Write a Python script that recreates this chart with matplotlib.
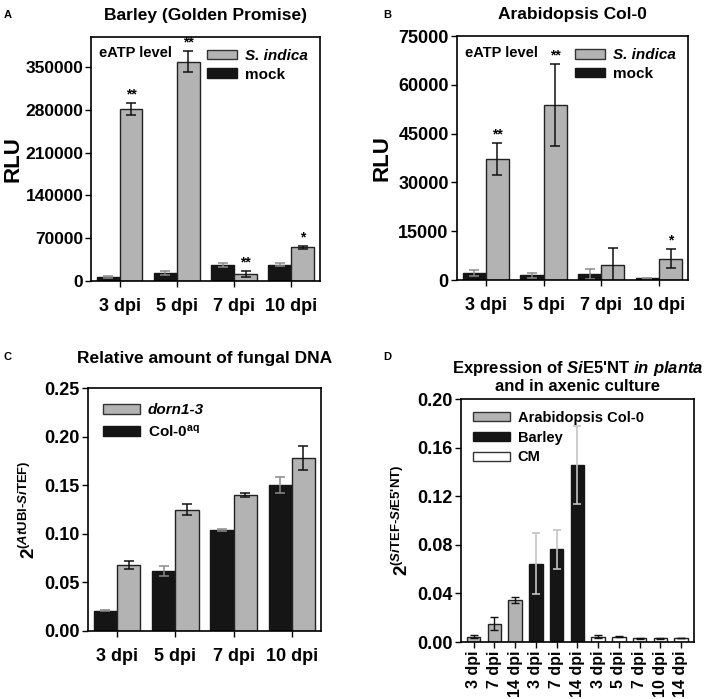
import numpy as np
import matplotlib
matplotlib.use('Agg')
import matplotlib.pyplot as plt
from matplotlib.patches import Patch

plt.rcParams['font.family'] = 'Liberation Sans'
plt.rcParams['font.weight'] = 'bold'
plt.rcParams['axes.labelweight'] = 'bold'
plt.rcParams['mathtext.fontset'] = 'custom'
plt.rcParams['mathtext.rm'] = 'Liberation Sans:bold'
plt.rcParams['mathtext.bf'] = 'Liberation Sans:bold'
plt.rcParams['mathtext.it'] = 'Liberation Sans:bold:italic'
plt.rcParams['axes.linewidth'] = 1.2

# --- data ---
days = ['3 dpi', '5 dpi', '7 dpi', '10 dpi']

barley_mock = [7000, 13000, 26000, 27000]
barley_mock_err = [2000, 3500, 3500, 2000]
barley_si = [281000, 359000, 11000, 55000]
barley_si_err = [10000, 17000, 5000, 3000]
barley_sig = ['**', '**', '**', '*']

arab_mock = [2200, 1400, 1900, 600]
arab_mock_err = [900, 700, 1500, 150]
arab_si = [37200, 53800, 4500, 6600]
arab_si_err = [4900, 12700, 5200, 3000]
arab_sig = ['**', '**', '', '*']

dna_col = [0.021, 0.062, 0.104, 0.150]
dna_col_err = [0.0007, 0.005, 0.001, 0.008]
dna_dorn = [0.068, 0.125, 0.140, 0.178]
dna_dorn_err = [0.004, 0.006, 0.002, 0.012]

expr_labels = ['3 dpi', '7 dpi', '14 dpi', '3 dpi', '7 dpi', '14 dpi',
               '3 dpi', '5 dpi', '7 dpi', '10 dpi', '14 dpi']
expr_arab = [0.0045, 0.015, 0.0345]
expr_arab_err = [0.001, 0.0055, 0.0025]
expr_barley = [0.0645, 0.0765, 0.1455]
expr_barley_err = [0.025, 0.016, 0.032]
expr_cm = [0.0045, 0.0043, 0.0032, 0.0032, 0.0035]
expr_cm_err = [0.0015, 0.0004, 0.0004, 0.0005, 0.0002]

GREY = '#b3b3b3'
BLACK = '#151515'
LEG = dict(frameon=False, handleheight=0.6, handletextpad=0.5)


def grouped(ax, black, black_err, grey, grey_err, sig=None, ecol_black='#8a8a8a'):
    x = np.arange(len(days))
    w = 0.4
    ax.bar(x - w / 2, black, w, color=BLACK, edgecolor=BLACK, lw=1)
    ax.errorbar(x - w / 2, black, yerr=black_err, fmt='none', ecolor=ecol_black,
                capsize=3.5, elinewidth=1.1, capthick=1.1)
    ax.bar(x + w / 2, grey, w, color=GREY, edgecolor='#222222', lw=1)
    ax.errorbar(x + w / 2, grey, yerr=grey_err, fmt='none', ecolor='#111111',
                capsize=3.5, elinewidth=1.1, capthick=1.1)
    if sig:
        for xi, v, e, s in zip(x, grey, grey_err, sig):
            if s:
                ax.annotate(s, (xi + w / 2, v + e), xytext=(0, 1),
                            textcoords='offset points', ha='center', va='bottom',
                            fontsize=10)
    ax.set_xlim(-0.5, len(days) - 0.5)
    ax.set_xticks(x)
    ax.set_xticklabels(days, fontsize=13)
    ax.tick_params(axis='both', direction='out', length=4, width=1)
    ax.tick_params(axis='y', labelsize=13, pad=2)
    ax.tick_params(axis='x', pad=8)


fig = plt.figure(figsize=(7.08, 6.99), dpi=100)

# A
axA = fig.add_axes([0.1285, 0.598, 0.3234, 0.3495])
grouped(axA, barley_mock, barley_mock_err, barley_si, barley_si_err, barley_sig)
axA.tick_params(axis='y', labelsize=12.5, pad=1.5)
axA.set_ylim(0, 400000)
axA.set_yticks(np.arange(0, 350001, 70000))
axA.set_ylabel('RLU', fontsize=16, labelpad=1)
axA.set_title('Barley (Golden Promise)', fontsize=12.5, fontweight='bold', pad=12)
axA.text(0.035, 0.96, 'eATP level', transform=axA.transAxes, fontsize=10.5,
         va='top', ha='left')
leg = axA.legend([Patch(fc=GREY, ec='#333333'), Patch(fc=BLACK, ec=BLACK)],
                 ['S. indica', 'mock'], loc='upper right', fontsize=11,
                 handlelength=2.0, borderaxespad=0.4, labelspacing=0.3, **LEG)
leg.get_texts()[0].set_style('italic')
fig.text(0.005, 0.985, 'A', fontsize=8, va='top')

# B
axB = fig.add_axes([0.6455, 0.5994, 0.326, 0.349])
grouped(axB, arab_mock, arab_mock_err, arab_si, arab_si_err, arab_sig)
axB.set_ylim(0, 75000)
axB.set_yticks(np.arange(0, 75001, 15000))
axB.set_ylabel('RLU', fontsize=16, labelpad=4)
axB.set_title('Arabidopsis Col-0', fontsize=12.5, fontweight='bold', pad=12)
axB.text(0.035, 0.96, 'eATP level', transform=axB.transAxes, fontsize=10.5,
         va='top', ha='left')
leg = axB.legend([Patch(fc=GREY, ec='#333333'), Patch(fc=BLACK, ec=BLACK)],
                 ['S. indica', 'mock'], loc='upper right', fontsize=11,
                 handlelength=2.0, borderaxespad=0.4, labelspacing=0.3, **LEG)
leg.get_texts()[0].set_style('italic')
fig.text(0.542, 0.985, 'B', fontsize=8, va='top')

# C
axC = fig.add_axes([0.1243, 0.0973, 0.329, 0.3476])
grouped(axC, dna_col, dna_col_err, dna_dorn, dna_dorn_err)
axC.set_ylim(0, 0.25)
axC.set_yticks(np.arange(0, 0.251, 0.05))
axC.set_yticklabels(['%.2f' % v for v in np.arange(0, 0.251, 0.05)])
axC.set_ylabel(r'$2^{(\mathit{At}\mathrm{UBI\text{-}}\mathit{Si}\mathrm{TEF})}$',
               fontsize=13.5, labelpad=4)
axC.set_title('Relative amount of fungal DNA', fontsize=12.5, fontweight='bold', pad=18)
leg = axC.legend([Patch(fc=GREY, ec='#333333'), Patch(fc=BLACK, ec=BLACK)],
                 ['dorn1-3', r'Col-0$^{\mathrm{aq}}$'], loc='upper left', fontsize=11,
                 handlelength=2.4, borderaxespad=0.6, labelspacing=0.4, **LEG)
leg.get_texts()[0].set_style('italic')
fig.text(0.005, 0.497, 'C', fontsize=8, va='top')

# D
axD = fig.add_axes([0.651, 0.0815, 0.329, 0.3476])
xa = np.arange(0, 3)
xb = np.arange(3, 6)
xc = np.arange(6, 11)
w = 0.65
axD.bar(xa, expr_arab, w, color=GREY, edgecolor='#222222', lw=1)
axD.errorbar(xa, expr_arab, yerr=expr_arab_err, fmt='none', ecolor='#111111',
             capsize=3, elinewidth=1, capthick=1)
axD.bar(xb, expr_barley, w, color=BLACK, edgecolor=BLACK, lw=1)
axD.errorbar(xb, expr_barley, yerr=expr_barley_err, fmt='none', ecolor='#c4c4c4',
             capsize=3, elinewidth=1.2, capthick=1.2)
axD.bar(xc, expr_cm, w, color='white', edgecolor='#222222', lw=1)
axD.errorbar(xc, expr_cm, yerr=expr_cm_err, fmt='none', ecolor='#111111',
             capsize=3, elinewidth=1, capthick=1)
axD.set_xlim(-0.62, 10.62)
axD.set_ylim(0, 0.2)
axD.set_yticks(np.arange(0, 0.201, 0.04))
axD.set_yticklabels(['%.2f' % v for v in np.arange(0, 0.201, 0.04)])
axD.set_xticks(np.arange(len(expr_labels)))
axD.set_xticklabels(expr_labels, rotation=90, fontsize=11.5)
axD.tick_params(axis='both', direction='out', length=4, width=1)
axD.tick_params(axis='y', labelsize=13, pad=2)
axD.tick_params(axis='x', pad=2)
axD.set_ylabel(r"$2^{(\mathit{Si}\mathrm{TEF\text{-}}\mathit{Si}\mathrm{E5\text{'}NT})}$",
               fontsize=13.5, labelpad=4)
axD.set_title("Expression of $\\mathit{Si}$E5'NT $\\mathit{in\\ planta}$\nand in axenic culture",
              fontsize=12, fontweight='bold', pad=6, linespacing=1.05)
axD.legend([Patch(fc=GREY, ec='#333333'), Patch(fc=BLACK, ec=BLACK),
            Patch(fc='white', ec='#333333')],
           ['Arabidopsis Col-0', 'Barley', 'CM'], loc='upper left', fontsize=10.5,
           handlelength=2.6, borderaxespad=0.4, labelspacing=0.4, **LEG)
fig.text(0.542, 0.497, 'D', fontsize=8, va='top')

fig.savefig('out.png', dpi=100)
